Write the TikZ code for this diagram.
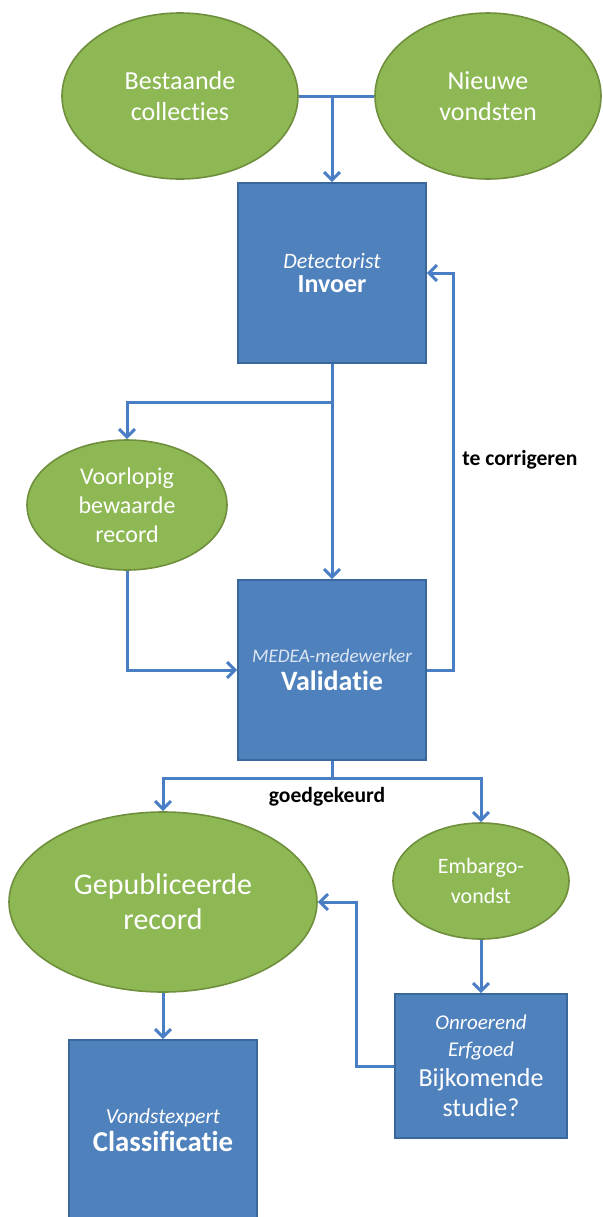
\documentclass[tikz,border=0pt]{standalone}
\usepackage{fontspec}
\setmainfont{Carlito}[Ligatures=NoCommon]
\usetikzlibrary{shapes.geometric,arrows.meta}
\definecolor{boxblue}{HTML}{4F81BD}
\definecolor{boxedge}{HTML}{3A679C}
\definecolor{leafgreen}{HTML}{8DB854}
\definecolor{leafedge}{HTML}{6F8F3D}
\definecolor{linkblue}{HTML}{4A7EC4}
\begin{document}
\begin{tikzpicture}[x=0.5pt,y=-0.5pt,
    oval/.style={ellipse,fill=leafgreen,draw=leafedge,thick,text=white,align=center,inner sep=0pt},
    taak/.style={rectangle,fill=boxblue,draw=boxedge,thick,text=white,align=center,inner sep=0pt},
    lijn/.style={draw=linkblue,line width=1.5pt},
    pijl/.style={lijn,-{Straight Barb[length=4pt,width=8pt]}},
    lbl/.style={font=\bfseries\fontsize{10.8}{12}\selectfont,text=black,inner sep=0pt}]
  \clip (0,0) rectangle (603,1217);
  % bronnen
  \node[oval,minimum width=118pt,minimum height=83pt,font=\fontsize{13}{15.5}\selectfont] (bestaande) at (180,96) {Bestaande\\collecties};
  \node[oval,minimum width=113pt,minimum height=83pt,font=\fontsize{13}{15.5}\selectfont] (nieuwe) at (488,96) {Nieuwe\\vondsten};
  % invoer en validatie
  \node[taak,minimum width=94pt,minimum height=90pt,font=\fontsize{13}{11}\selectfont] (invoer) at (332,273)
    {{\fontsize{11}{11}\selectfont\itshape Detectorist}\\[1pt]{\bfseries Invoer}};
  \node[oval,minimum width=100pt,minimum height=65pt,font=\fontsize{12}{14.5}\selectfont] (voorlopig) at (127,505) {Voorlopig\\bewaarde\\record};
  \node[taak,minimum width=94pt,minimum height=90pt,font=\fontsize{14}{13}\selectfont] (validatie) at (332,670)
    {{\fontsize{9.6}{10}\selectfont\itshape\color{white!80!boxblue}MEDEA-medewerker}\\[1pt]{\bfseries Validatie}};
  % uitkomst
  \node[oval,minimum width=154pt,minimum height=90pt,font=\fontsize{15}{17.5}\selectfont] (gepubliceerd) at (163,902) {Gepubliceerde\\record};
  \node[oval,minimum width=88pt,minimum height=58pt,font=\fontsize{11}{15}\selectfont] (embargo) at (481,881) {Embargo-\\vondst};
  \node[taak,minimum width=86pt,minimum height=72pt,font=\fontsize{13}{15}\selectfont] (bijkomend) at (481,1066)
    {{\fontsize{10.5}{13}\selectfont\itshape Onroerend}\\[-1.5pt]{\fontsize{10.5}{13}\selectfont\itshape Erfgoed}\\{Bijkomende}\\{studie?}};
  \node[taak,minimum width=94pt,minimum height=90pt,font=\fontsize{14.4}{13}\selectfont] (classificatie) at (163,1130)
    {{\fontsize{10.7}{11}\selectfont\itshape Vondstexpert}\\[1pt]{\bfseries Classificatie}};
  % verbindingen
  \coordinate (samen) at (invoer.north |- bestaande.east);
  \draw[lijn] (bestaande.east) -- (nieuwe.west);
  \draw[pijl] (samen) -- (invoer.north);
  \coordinate (splits) at (332,402);
  \draw[pijl] (invoer.south) -- (validatie.north);
  \draw[pijl] (splits) -| (voorlopig.north);
  \draw[pijl] (voorlopig.south) |- (validatie.west);
  \draw[pijl] (validatie.east) -- ++(27,0) |- (invoer.east);
  \node[lbl,anchor=west] (corrigeren) at (462,460) {te corrigeren};
  \coordinate (keuze) at (332,778);
  \draw[lijn] (validatie.south) -- (keuze);
  \draw[pijl] (keuze) -| (gepubliceerd.north);
  \draw[pijl] (keuze) -| (embargo.north);
  \node[lbl] (goedgekeurd) at (327,797) {goedgekeurd};
  \draw[pijl] (embargo.south) -- (bijkomend.north);
  \draw[pijl] (bijkomend.west) -- ++(-38,0) |- (gepubliceerd.east);
  \draw[pijl] (gepubliceerd.south) -- (classificatie.north);
\end{tikzpicture}
\end{document}
